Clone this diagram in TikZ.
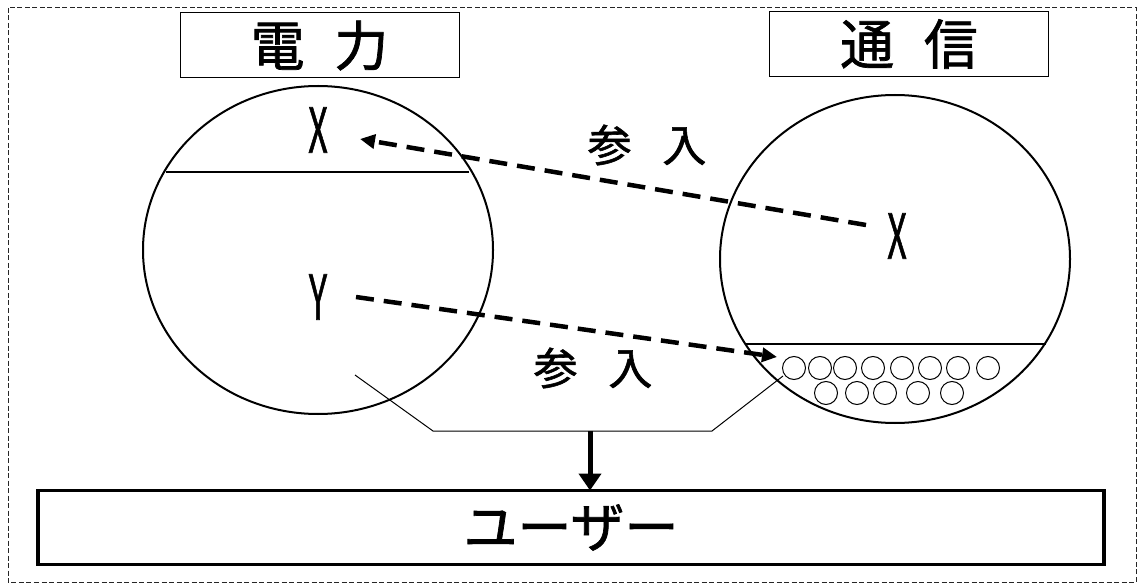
\documentclass[tikz,border=0pt]{standalone}
\usepackage{fontspec}
\setmainfont{Noto Sans CJK JP}[FakeBold=1.3]
\usetikzlibrary{arrows.meta}
\begin{document}
\begin{tikzpicture}[x=1pt,y=-1pt,
  titlebox/.style={draw,line width=1pt,minimum width=279pt,minimum height=65pt,inner sep=0pt,font=\fontsize{54}{54}\selectfont},
  realm/.style={draw,line width=2pt},
  letter/.style={font=\fontsize{62}{62}\selectfont,inner sep=0pt},
  entry/.style={font=\fontsize{44}{44}\selectfont,inner sep=0pt},
  entryarrow/.style={line width=4.5pt,dash pattern=on 18pt off 10pt,-{Triangle[length=15pt,width=14pt]}},
  ball/.style={draw,line width=1pt,circle,minimum size=23pt,inner sep=0pt},
  funnel/.style={line width=1pt}]
\useasboundingbox (0,0) rectangle (1140,585);
\draw[line width=1pt,dash pattern=on 5pt off 2.5pt,black!85] (8,8) rectangle (1136,582);
% titles
\node[titlebox] (tp) at (319.5,45.5) {電\hspace{0.55em}力};
\node[titlebox] (tc) at (909,44) {通\hspace{0.55em}信};
% left realm
\draw[realm] (318,250) ellipse [x radius=175, y radius=164];
\coordinate (lL) at (166,172);
\coordinate (lR) at (469,172);
\draw[line width=1.5pt] (lL) -- (lR);
\node[letter] (px) at (318,130) {\scalebox{0.55}[1]{X}};
\node[letter] (py) at (318,297) {\scalebox{0.55}[1]{Y}};
% right realm
\draw[realm] (895,259) ellipse [x radius=175, y radius=164];
\coordinate (rL) at (745,344);
\coordinate (rR) at (1046,344);
\draw[line width=1.5pt] (rL) -- (rR);
\node[letter] (cx) at (897,236) {\scalebox{0.55}[1]{X}};
% balls
\foreach \i/\x in {1/794,2/820,3/845,4/873,5/902,6/930,7/958,8/988}
  \node[ball] (b\i) at (\x,368) {};
\foreach \i/\x in {1/826,2/857,3/885,4/918,5/952}
  \node[ball] (c\i) at (\x,393) {};
% entry arrows
\coordinate (a1s) at (866,225);
\coordinate (a1e) at (360,139);
\draw[entryarrow] (a1s) -- (a1e);
\coordinate (a2s) at (356,297);
\coordinate (a2e) at (777,357);
\draw[entryarrow] (a2s) -- (a2e);
\node[entry] (e1) at (647,145) {参\hspace{0.7em}入};
\node[entry] (e2) at (593,368) {参\hspace{0.7em}入};
% funnel
\coordinate (f1) at (355,375);
\coordinate (f2) at (433,431);
\coordinate (f3) at (712,431);
\coordinate (f4) at (783,376);
\draw[funnel] (f1) -- (f2) -- (f3) -- (f4);
% user
\node[draw,line width=3.5pt,minimum width=1066pt,minimum height=74pt,inner sep=0pt,font=\fontsize{54}{54}\selectfont] (user) at (571,527.5) {ユーザー};
\coordinate (fm) at (590,431);
\draw[line width=5pt,-{Triangle[length=17pt,width=22pt]}] (fm) -- (590,490.5);
\end{tikzpicture}
\end{document}
